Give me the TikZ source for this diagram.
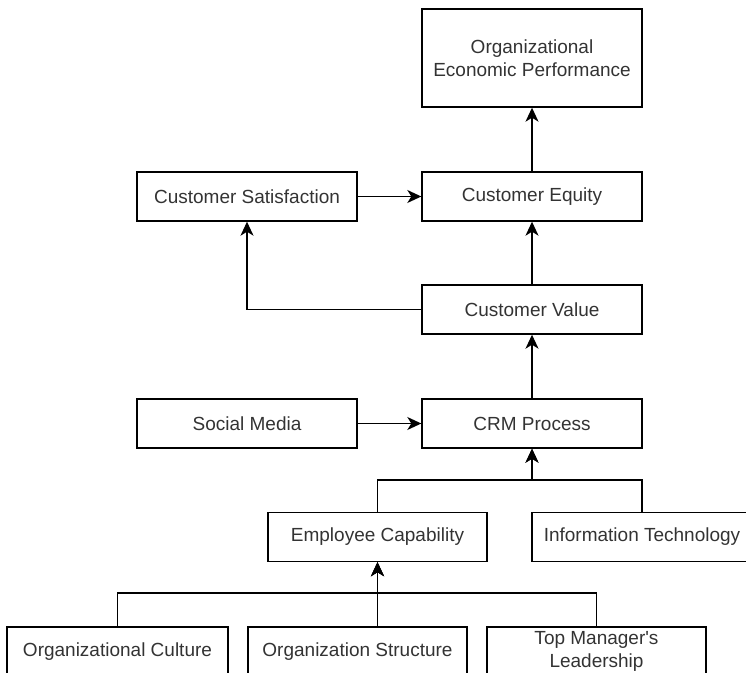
\documentclass[tikz,border=0pt]{standalone}
\usepackage{fontspec}
\setmainfont{Liberation Sans}
\usepackage{tikz}
\usetikzlibrary{arrows.meta,positioning}

\begin{document}
\begin{tikzpicture}[x=1pt,y=1pt,line width=1.4pt,
    font=\fontsize{19}{23}\selectfont,
    box/.style={draw,text=black!80,align=center,minimum width=220pt,minimum height=49pt,inner sep=0pt},
    link/.style={-{Stealth[length=14pt,width=13pt,inset=4pt]}}]
        \useasboundingbox (0,0) rectangle (746,672);
        \node[box,minimum height=98pt] (perf) at (532,614) {Organizational\\Economic Performance};
        \node[box] (equity) at (532,475.5) {Customer Equity};
        \node[box] (satis) at (247,475.5) {Customer Satisfaction};
        \node[box] (value) at (532,362.5) {Customer Value};
        \node[box] (social) at (247,248.5) {Social Media};
        \node[box] (crm) at (532,248.5) {CRM Process};
        \node[box,minimum width=219pt] (empcap) at (377.5,135) {Employee Capability};
        \node[box] (infotech) at (642,135) {Information Technology};
        \node[box,minimum width=221pt] (culture) at (117.5,20.5) {Organizational Culture};
        \node[box,minimum width=219pt] (struct) at (357.5,20.5) {Organization Structure};
        \node[box,minimum width=219pt] (leader) at (596.5,20.5) {Top Manager\textquotesingle s\\Leadership};
        % junction points of the merging connectors
        \coordinate (crmjoin) at (crm.south |- 0,192);
        \coordinate (capjoin) at (empcap.south |- 0,79);
        \draw[link] (equity) -- (perf);
        \draw[link] (satis) -- (equity);
        \draw[link] (value) -- (equity);
        \draw[link] (value.west) -| (satis.south);
        \draw[link] (crm) -- (value);
        \draw[link] (social) -- (crm);
        \draw[link] (empcap.north) |- (crmjoin) -- (crm.south);
        \draw[link] (infotech.north) |- (crmjoin) -- (crm.south);
        \draw[link] (culture.north) |- (capjoin) -- (empcap.south);
        \draw[link] (leader.north) |- (capjoin) -- (empcap.south);
        \draw[link] (empcap.south |- struct.north) -- (empcap.south);
      \end{tikzpicture}
\end{document}
